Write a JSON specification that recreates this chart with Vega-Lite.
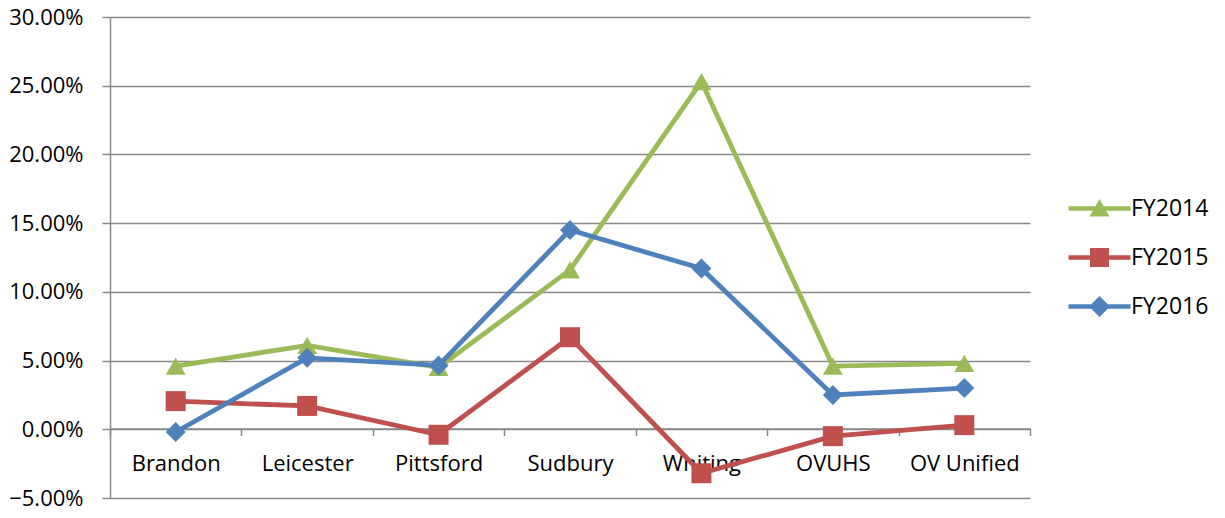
{
  "$schema": "https://vega.github.io/schema/vega-lite/v6.json",
  "width": 920,
  "height": 481,
  "autosize": {"type": "none"},
  "padding": {"left": 110, "top": 17, "right": 195, "bottom": 20},
  "background": "white",
  "config": {
    "view": {"stroke": null},
    "font": "Open Sans",
    "axis": {"labelFont": "Open Sans", "labelColor": "#000000"},
    "legend": {"labelFont": "Open Sans"}
  },
  "data": {
    "values": [
      {"school": "Brandon", "series": "FY2014", "value": 0.046},
      {"school": "Leicester", "series": "FY2014", "value": 0.061},
      {"school": "Pittsford", "series": "FY2014", "value": 0.045},
      {"school": "Sudbury", "series": "FY2014", "value": 0.116},
      {"school": "Whiting", "series": "FY2014", "value": 0.253},
      {"school": "OVUHS", "series": "FY2014", "value": 0.046},
      {"school": "OV Unified", "series": "FY2014", "value": 0.048},
      {"school": "Brandon", "series": "FY2015", "value": 0.0205},
      {"school": "Leicester", "series": "FY2015", "value": 0.017},
      {"school": "Pittsford", "series": "FY2015", "value": -0.004},
      {"school": "Sudbury", "series": "FY2015", "value": 0.067},
      {"school": "Whiting", "series": "FY2015", "value": -0.032},
      {"school": "OVUHS", "series": "FY2015", "value": -0.005},
      {"school": "OV Unified", "series": "FY2015", "value": 0.003},
      {"school": "Brandon", "series": "FY2016", "value": -0.002},
      {"school": "Leicester", "series": "FY2016", "value": 0.052},
      {"school": "Pittsford", "series": "FY2016", "value": 0.0465},
      {"school": "Sudbury", "series": "FY2016", "value": 0.145},
      {"school": "Whiting", "series": "FY2016", "value": 0.117},
      {"school": "OVUHS", "series": "FY2016", "value": 0.025},
      {"school": "OV Unified", "series": "FY2016", "value": 0.030}
    ]
  },
  "encoding": {
    "x": {
      "field": "school",
      "type": "nominal",
      "sort": ["Brandon", "Leicester", "Pittsford", "Sudbury", "Whiting", "OVUHS", "OV Unified"],
      "scale": {"paddingInner": 0, "paddingOuter": 0},
      "axis": {
        "title": null,
        "labelAngle": 0,
        "offset": -69.5,
        "domainColor": "#888888",
        "domainWidth": 1.5,
        "tickColor": "#888888",
        "tickWidth": 1.5,
        "tickSize": 7,
        "tickBand": "extent",
        "labelPadding": 18,
        "labelFontSize": 22,
        "grid": false
      }
    },
    "y": {
      "field": "value",
      "type": "quantitative",
      "scale": {"domain": [-0.05, 0.3], "nice": false, "zero": false},
      "axis": {
        "title": null,
        "format": ".2%",
        "values": [-0.05, 0, 0.05, 0.1, 0.15, 0.2, 0.25, 0.3],
        "domainColor": "#888888",
        "domainWidth": 1.5,
        "tickColor": "#888888",
        "tickWidth": 1.5,
        "tickSize": 8,
        "labelPadding": 19,
        "labelFontSize": 22,
        "gridColor": "#888888",
        "gridWidth": 1.5
      }
    }
  },
  "layer": [
    {
      "mark": {"type": "line", "strokeWidth": 4.8},
      "encoding": {
        "color": {
          "field": "series",
          "type": "nominal",
          "scale": {"domain": ["FY2014", "FY2015", "FY2016"], "range": ["#9BBB59", "#C0504D", "#4F81BD"]},
          "legend": null
        }
      }
    },
    {
      "mark": {"type": "point", "filled": true, "opacity": 1, "size": 400},
      "encoding": {
        "color": {"field": "series", "type": "nominal", "legend": null},
        "shape": {
          "field": "series",
          "type": "nominal",
          "scale": {"domain": ["FY2014", "FY2015", "FY2016"], "range": ["triangle-up", "square", "diamond"]},
          "legend": null
        }
      }
    },
    {
      "transform": [{"filter": "false"}],
      "mark": {"type": "point", "filled": true, "opacity": 1, "size": 324, "strokeWidth": 0},
      "encoding": {
        "fill": {
          "field": "series",
          "type": "nominal",
          "scale": {"domain": ["FY2014", "FY2015", "FY2016"], "range": ["#9BBB59", "#C0504D", "#4F81BD"]},
          "legend": {
            "title": null,
            "orient": "none",
            "legendX": 978,
            "legendY": 180,
            "labelFontSize": 23,
            "labelColor": "#000000",
            "labelOffset": 20,
            "rowPadding": 25,
            "symbolStrokeWidth": 0,
            "symbolOpacity": 1
          }
        },
        "shape": {
          "field": "series",
          "type": "nominal",
          "scale": {
            "domain": ["FY2014", "FY2015", "FY2016"],
            "range": [
              "M-6.2,-0.44H6.2V0.44H-6.2Z M0,-1.9L2,1.6L-2,1.6Z",
              "M-6.2,-0.44H6.2V0.44H-6.2Z M-1.9,-1.9H1.9V1.9H-1.9Z",
              "M-6.2,-0.44H6.2V0.44H-6.2Z M0,-2.1L2.1,0L0,2.1L-2.1,0Z"
            ]
          },
          "legend": {
            "title": null,
            "orient": "none",
            "legendX": 978,
            "legendY": 180,
            "labelFontSize": 23,
            "labelColor": "#000000",
            "labelOffset": 20,
            "rowPadding": 25,
            "symbolStrokeWidth": 0,
            "symbolOpacity": 1
          }
        }
      }
    }
  ],
  "resolve": {
    "scale": {"shape": "independent", "fill": "independent"},
    "legend": {"shape": "independent", "fill": "independent"}
  }
}
